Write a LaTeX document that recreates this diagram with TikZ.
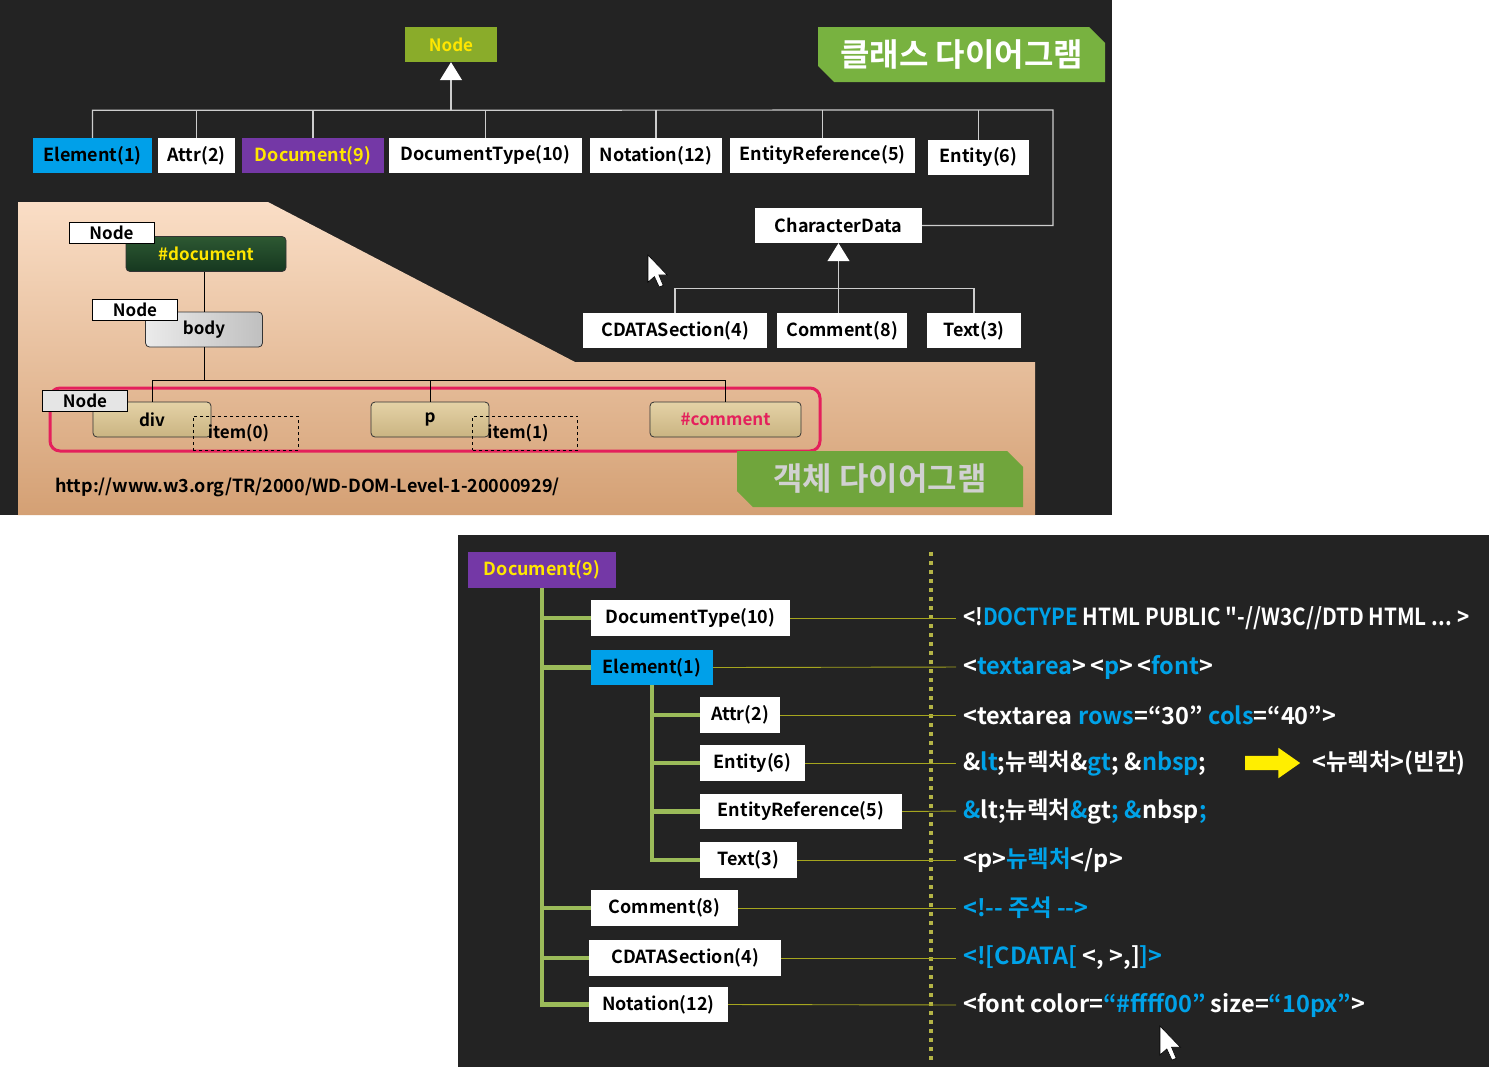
\documentclass[tikz,border=0pt]{standalone}
\usepackage{graphicx}
\usepackage{fontspec}
\setmainfont{Noto Sans CJK KR}[Ligatures=TeXOff,BoldFont={Noto Sans CJK KR Bold}]
\usetikzlibrary{arrows.meta,shapes.arrows,shapes.misc}

\definecolor{panel}{RGB}{35,35,35}
\definecolor{nodegreen}{RGB}{138,172,42}
\definecolor{nodeyel}{RGB}{255,230,0}
\definecolor{elblue}{RGB}{0,160,233}
\definecolor{docpurple}{RGB}{116,56,166}
\definecolor{tagtop}{RGB}{120,178,64}
\definecolor{tagbot}{RGB}{112,165,60}
\definecolor{peachtop}{RGB}{250,222,198}
\definecolor{peachbot}{RGB}{212,160,116}
\definecolor{ringred}{RGB}{228,32,92}
\definecolor{marbletop}{RGB}{45,88,50}
\definecolor{marblebot}{RGB}{22,56,32}
\definecolor{tantop}{RGB}{228,210,166}
\definecolor{tanbot}{RGB}{202,180,130}
\definecolor{treegreen}{RGB}{155,187,89}
\definecolor{dotol}{RGB}{180,180,70}
\definecolor{lineol}{RGB}{165,165,30}
\definecolor{codeblue}{RGB}{0,162,232}
\definecolor{arryel}{RGB}{255,238,0}
\definecolor{busgrey}{RGB}{205,205,205}

\tikzset{cursor/.pic={
  \filldraw[fill=white,draw=black,line width=0.6pt] (0,0) -- (0,17) -- (4,13.5) -- (7,20) -- (9.5,19) -- (6.8,12.5) -- (12,12.5) -- cycle;}}

\begin{document}
\begin{tikzpicture}[x=1pt,y=-1pt,
    cls/.style={fill=white,minimum height=35,inner sep=0,font=\bfseries\fontsize{18}{20}\selectfont},
    gline/.style={draw=busgrey,line width=1.2pt},
    oline/.style={draw=black,line width=1pt},
    tag/.style={chamfered rectangle,chamfered rectangle corners={north east,south west},
      chamfered rectangle xsep=8pt,chamfered rectangle ysep=8pt,inner sep=0,
      font=\bfseries\fontsize{32}{34}\selectfont},
    lbl/.style={draw=black,line width=0.8pt,fill=white,minimum width=85,minimum height=21,inner sep=0,
      font=\bfseries\fontsize{17}{18}\selectfont},
    obj/.style={draw=black!80,line width=0.8pt,rounded corners=4pt,minimum height=35,inner sep=0,
      font=\bfseries\fontsize{17}{18}\selectfont},
    tan/.style={obj,top color=tantop,bottom color=tanbot},
    itembox/.style={draw=black,dashed,line width=0.7pt,minimum width=105,minimum height=34,inner sep=0,
      font=\bfseries\fontsize{17}{18}\selectfont},
    tree/.style={draw=treegreen,line width=4.5pt},
    tline/.style={draw=lineol,line width=0.9pt,shorten >=7pt},
    code/.style={anchor=west,inner sep=0,text=white,font=\bfseries\fontsize{23.5}{25}\selectfont}]

\fill[white] (0,0) rectangle (1495,1080);
\useasboundingbox (0,0) rectangle (1495,1080);

% class diagram
\fill[panel] (0,0) rectangle (1112,515);
\node[tag,fill=tagtop,text=white,minimum width=287,minimum height=55] (ctitle) at (961.5,54.5) {클래스 다이어그램};

\node[cls,fill=nodegreen,text=nodeyel,minimum width=92,font=\bfseries\fontsize{17}{18}\selectfont] (ntop) at (451,44.5) {Node};
\node[cls,fill=elblue,minimum width=119] (el1) at (92.5,155.5) {Element(1)};
\node[cls,minimum width=77] (attr1) at (196.5,155.5) {Attr(2)};
\node[cls,fill=docpurple,text=nodeyel,minimum width=142] (doc1) at (313,155.5) {Document(9)};
\node[cls,minimum width=193] (dt1) at (485.5,155.5) {DocumentType(10)};
\node[cls,minimum width=132] (not1) at (656,155.5) {Notation(12)};
\node[cls,minimum width=185] (er1) at (822.5,155.5) {EntityReference(5)};
\node[cls,minimum width=101] (ent1) at (978.5,157.5) {Entity(6)};
\node[cls,minimum width=167] (cd) at (838.5,225.5) {CharacterData};

% peach area
\shade[top color=peachtop,bottom color=peachbot] (18,202) -- (268,202) -- (575,362) -- (1035,362) -- (1035,515) -- (18,515) -- cycle;

\node[cls,minimum width=184] (cdata1) at (675,330.5) {CDATASection(4)};
\node[cls,minimum width=130] (com1) at (842,330.5) {Comment(8)};
\node[cls,minimum width=94] (txt1) at (974,330.5) {Text(3)};

\draw[gline,{Triangle[width=22pt,length=18pt,fill=white,color=white]}-] (ntop.south) -- ++(0,48) coordinate (bus);
\coordinate (busR) at (1053,110);
\draw[gline] (el1.north) |- (bus) -- (busR) |- (cd.east);
\foreach \n in {attr1,doc1,dt1,not1,er1,ent1}
  \draw[gline] (\n.north) -- (\n.north |- bus);
\draw[gline,{Triangle[width=22pt,length=18pt,fill=white,color=white]}-] (cd.south) -- ++(0,45) coordinate (cbus);
\draw[gline] (cdata1.north) |- (cbus) -| (txt1.north);
\draw[gline] (cbus) -- (cbus |- com1.north);

% object diagram
\draw[ringred,line width=3pt,rounded corners=10pt] (50,388) rectangle (820,451);
\node[obj,top color=marbletop,bottom color=marblebot,text=nodeyel,minimum width=160] (ndoc) at (206,254) {\#document};
\node[obj,left color=white!92!black,right color=black!25,minimum width=117] (nbody) at (204,329.5) {body};
\node[tan,minimum width=118] (ndiv) at (152,419.5) {div};
\node[tan,minimum width=118] (np) at (430,419.5) {p};
\node[tan,text=ringred,minimum width=151] (ncom) at (725.5,419.5) {\#comment};
\draw[oline] (nbody.north) -- (nbody.north |- ndoc.south);
\draw[oline] (nbody.south) -- ++(0,33) coordinate (obus);
\draw[oline] (ndiv.north) |- (obus) -| (ncom.north);
\draw[oline] (np.north) -- (np.north |- obus);
\node[lbl] (lab1) at (111.5,232.5) {Node};
\node[lbl] (lab2) at (135,309.5) {Node};
\node[lbl,fill=black!10] (lab3) at (85,400.5) {Node};
\node[itembox] (it0) at (245.5,433) {\hspace{-14pt}item(0)};
\node[itembox] (it1) at (525,433) {\hspace{-14pt}item(1)};
\node[anchor=west,inner sep=0,font=\bfseries\fontsize{18}{19}\selectfont] (url) at (55,487) {http://www.w3.org/TR/2000/WD-DOM-Level-1-20000929/};
\node[tag,fill=tagbot,text=black!18,minimum width=286,minimum height=56] (otitle) at (880,479) {객체 다이어그램};
\pic[scale=1.6] at (648,255) {cursor};

% node types and markup
\fill[panel] (458,535) rectangle (1489,1067);
\draw[dotol,line width=4pt,dash pattern=on 4pt off 5pt] (931,552) -- (931,1062);

\node[cls,fill=docpurple,text=nodeyel,minimum width=148,minimum height=36] (bdoc) at (542,570) {Document(9)};
\node[cls,minimum width=199,minimum height=36] (bdt) at (690.5,618) {DocumentType(10)};
\node[cls,fill=elblue,minimum width=122] (bel) at (652,667.5) {Element(1)};
\node[cls,minimum width=80,minimum height=36] (battr) at (740,715) {Attr(2)};
\node[cls,minimum width=105,minimum height=36] (bent) at (752.5,763) {Entity(6)};
\node[cls,minimum width=202] (ber) at (801,811.5) {EntityReference(5)};
\node[cls,minimum width=97,minimum height=36] (btxt) at (748.5,860) {Text(3)};
\node[cls,minimum width=147,minimum height=36] (bcom) at (664.5,908) {Comment(8)};
\node[cls,minimum width=192,minimum height=36] (bcd) at (685,958) {CDATASection(4)};
\node[cls,minimum width=139] (bnot) at (658.5,1004.5) {Notation(12)};

\draw[tree] (bdoc.south) |- (bnot.west);
\foreach \n in {bdt,bel,bcom,bcd}
  \draw[tree] (\n.west) -- (\n.west -| bdoc.south);
\draw[tree] (bel.south) |- (btxt.west);
\foreach \n in {battr,bent,ber}
  \draw[tree] (\n.west) -- (\n.west -| bel.south);

\node[code] (c1) at (963,618) {\scalebox{0.88}[1]{<!\textcolor{codeblue}{DOCTYPE} HTML PUBLIC "-//W3C//DTD HTML ... >}};
\node[code] (c2) at (963,667) {<\textcolor{codeblue}{textarea}>\,<\textcolor{codeblue}{p}>\,<\textcolor{codeblue}{font}>};
\node[code] (c3) at (963,715) {<textarea \textcolor{codeblue}{rows}=“30” \textcolor{codeblue}{cols}=“40”>};
\node[code] (c4) at (963,763) {\&\textcolor{codeblue}{lt};뉴렉처\&\textcolor{codeblue}{gt}; \&\textcolor{codeblue}{nbsp};};
\node[single arrow,fill=arryel,minimum height=55,inner xsep=0,inner ysep=7pt,single arrow head extend=8pt,
  single arrow tip angle=70] (yarr) at (1267.5,763) {};
\node[code] (c4b) at (1312,763) {<뉴렉처>(빈칸)};
\node[code] (c5) at (963,811) {\textcolor{codeblue}{\&}lt;뉴렉처\textcolor{codeblue}{\&}gt\textcolor{codeblue}{;} \textcolor{codeblue}{\&}nbsp\textcolor{codeblue}{;}};
\node[code] (c6) at (963,860) {<p>\textcolor{codeblue}{뉴렉처}</p>};
\node[code,text=codeblue] (c7) at (963,908) {<!-- 주석 -->};
\node[code] (c8) at (963,958) {\textcolor{codeblue}{<![CDATA[} <, >,]\textcolor{codeblue}{]>}};
\node[code] (c9) at (963,1005) {<font color=\textcolor{codeblue}{“\#ffff00”} size=\textcolor{codeblue}{“10px”}>};

\draw[tline] (bdt.east) -- (c1.west);
\draw[tline] (bel.east) -- (c2.west);
\draw[tline] (battr.east) -- (c3.west);
\draw[tline] (bent.east) -- (c4.west);
\draw[tline] (ber.east) -- (c5.west);
\draw[tline] (btxt.east) -- (c6.west);
\draw[tline] (bcom.east) -- (c7.west);
\draw[tline] (bcd.east) -- (c8.west);
\draw[tline] (bnot.east) -- (c9.west);
\pic[scale=1.7] at (1160,1026) {cursor};
\end{tikzpicture}
\end{document}
